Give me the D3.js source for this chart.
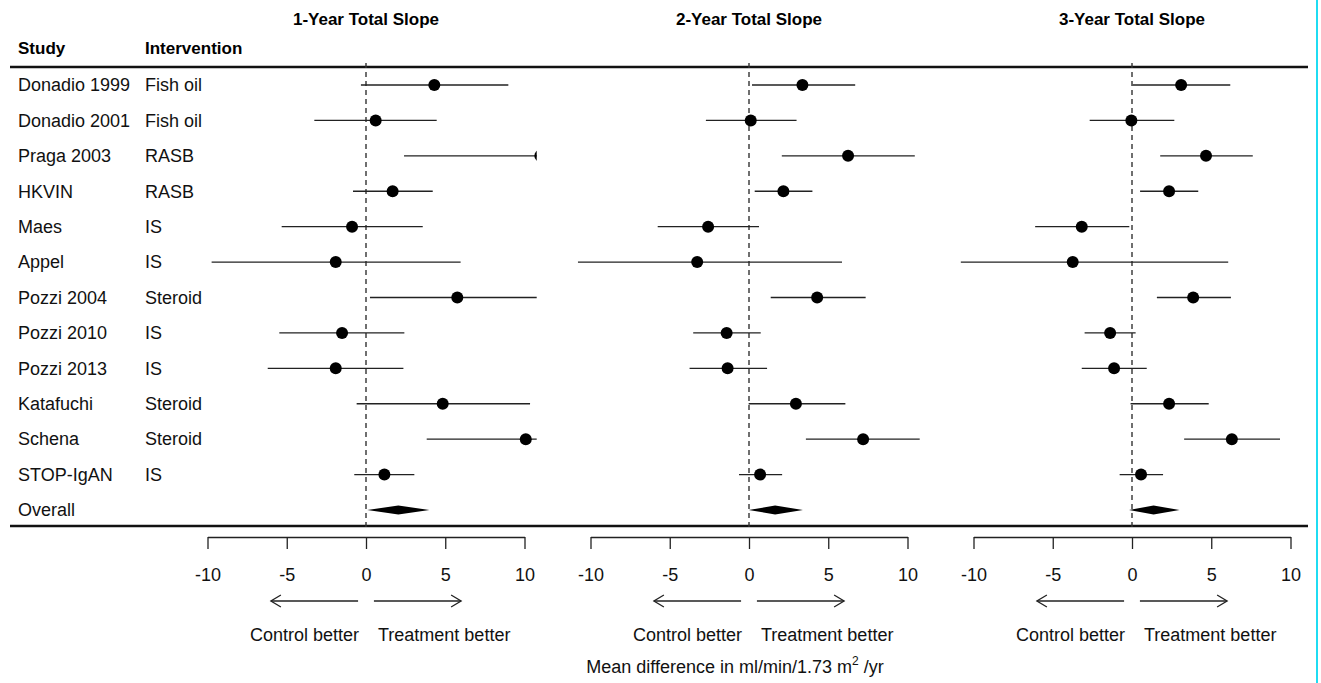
<!DOCTYPE html>
<html><head><meta charset="utf-8">
<script src="https://cdn.jsdelivr.net/npm/d3@7"></script>
<style>
body{margin:0;background:#fff;}
svg{display:block;font-family:"Liberation Sans",Arial,sans-serif;}
</style></head>
<body>
<svg id="chart" width="1321" height="683"></svg>
<script>
const studies = ["Donadio 1999","Donadio 2001","Praga 2003","HKVIN","Maes","Appel","Pozzi 2004","Pozzi 2010","Pozzi 2013","Katafuchi","Schena","STOP-IgAN"];
const interventions = ["Fish oil","Fish oil","RASB","RASB","IS","IS","Steroid","IS","IS","Steroid","Steroid","IS"];
const panelTitles = ["1-Year Total Slope","2-Year Total Slope","3-Year Total Slope"];

const mean1 = [4.31,0.61,11.0,1.68,-0.88,-1.91,5.76,-1.51,-1.91,4.84,10.08,1.16];
const lo1   = [-0.32,-3.26,2.4,-0.82,-5.32,-9.74,0.25,-5.47,-6.2,-0.59,3.83,-0.74];
const hi1   = [8.98,4.46,19.6,4.21,3.58,5.97,11.3,2.42,2.36,10.35,16.3,3.05];
const overall1 = [0.08,2.04,4.0];

const mean2 = [3.37,0.11,6.25,2.17,-2.58,-3.27,4.3,-1.41,-1.35,2.96,7.2,0.7];
const lo2   = [0.19,-2.72,2.07,0.36,-5.76,-10.8,1.37,-3.52,-3.75,-0.02,3.59,-0.63];
const hi2   = [6.7,3.0,10.46,4.0,0.63,5.87,7.36,0.74,1.14,6.08,10.8,2.09];
const overall2 = [-0.02,1.65,3.4];

const mean3 = [3.1,-0.04,4.67,2.34,-3.17,-3.74,3.86,-1.38,-1.13,2.34,6.3,0.57];
const lo3   = [0.04,-2.67,1.78,0.51,-6.11,-10.85,1.57,-2.99,-3.17,-0.09,3.29,-0.78];
const hi3   = [6.2,2.67,7.62,4.18,-0.17,6.07,6.24,0.23,0.93,4.84,9.34,1.96];
const overall3 = [-0.19,1.36,3.0];

const tickValues = [-10,-5,0,5,10];
const axisTitle = "Mean difference in ml/min/1.73 m";

const panels = [
  {title: panelTitles[0], mean: mean1, lo: lo1, hi: hi1, overall: overall1, center: 366},
  {title: panelTitles[1], mean: mean2, lo: lo2, hi: hi2, overall: overall2, center: 749},
  {title: panelTitles[2], mean: mean3, lo: lo3, hi: hi3, overall: overall3, center: 1132}
];

const svg = d3.select("#chart");
const rowNames = studies.concat(["Overall"]);
const y = d3.scalePoint().domain(rowNames).range([85, 510]);

const topLineY = 67, botLineY = 526, axisY = 537;
const fs = 18;

// cyan edge line
svg.append("line").attr("x1",1317).attr("x2",1317).attr("y1",0).attr("y2",683)
  .attr("stroke","#1fdcf2").attr("stroke-width",2);

// horizontal rules
[topLineY, botLineY].forEach(yy => {
  svg.append("line").attr("x1",10).attr("x2",1308).attr("y1",yy).attr("y2",yy)
    .attr("stroke","#111").attr("stroke-width",2.6);
});

// headers
svg.append("text").attr("x",18).attr("y",48).attr("dy","0.35em")
  .attr("font-weight","bold").attr("font-size",fs-1).text("Study");
svg.append("text").attr("x",145).attr("y",48).attr("dy","0.35em")
  .attr("font-weight","bold").attr("font-size",fs-1).text("Intervention");

// row labels
svg.append("g").selectAll("text").data(rowNames).join("text")
  .attr("x",18).attr("y",d=>y(d)).attr("dy","0.35em").attr("font-size",fs).attr("fill","#111")
  .text(d=>d);
svg.append("g").selectAll("text").data(interventions).join("text")
  .attr("x",145).attr("y",(d,i)=>y(studies[i])).attr("dy","0.35em").attr("font-size",fs).attr("fill","#111")
  .text(d=>d);

const defs = svg.append("defs");

panels.forEach((p, pi) => {
  const x = d3.scaleLinear().domain([-10,10]).range([p.center-158.5, p.center+158.5]);
  const g = svg.append("g");

  // title
  g.append("text").attr("x",x(0)).attr("y",19).attr("dy","0.35em").attr("text-anchor","middle")
    .attr("font-weight","bold").attr("font-size",fs-1).text(p.title);

  // clip
  const cid = "clip"+pi;
  defs.append("clipPath").attr("id",cid).append("rect")
    .attr("x",x(-10.8)).attr("width",x(10.77)-x(-10.8)).attr("y",topLineY).attr("height",botLineY-topLineY);

  // dashed zero line
  g.append("line").attr("x1",x(0)).attr("x2",x(0)).attr("y1",topLineY-4).attr("y2",botLineY+4)
    .attr("stroke","#333").attr("stroke-width",1.4).attr("stroke-dasharray","5,4");

  const m = g.append("g").attr("clip-path",`url(#${cid})`);
  m.selectAll("line.ci").data(studies).join("line").attr("class","ci")
    .attr("x1",(d,i)=>x(p.lo[i])).attr("x2",(d,i)=>x(p.hi[i]))
    .attr("y1",d=>y(d)).attr("y2",d=>y(d))
    .attr("stroke","#222").attr("stroke-width",1.4);
  m.selectAll("circle").data(studies).join("circle")
    .attr("cx",(d,i)=>x(p.mean[i])).attr("cy",d=>y(d)).attr("r",6).attr("fill","#000");

  // overall diamond
  const oy = y("Overall");
  const [ol, om, oh] = p.overall;
  m.append("path")
    .attr("d",`M${x(ol)},${oy} L${x(om)},${oy-4.5} L${x(oh)},${oy} L${x(om)},${oy+4.5} Z`)
    .attr("fill","#000");

  // axis
  const axis = d3.axisBottom(x).tickValues(tickValues).tickSize(12).tickSizeOuter(0)
    .tickFormat(d=>d3.format("d")(d).replace("−","-"));
  const ag = g.append("g").attr("transform",`translate(0,${axisY})`).call(axis);
  ag.select(".domain").attr("stroke","#222").attr("stroke-width",1.3);
  ag.selectAll(".tick line").attr("stroke","#222").attr("stroke-width",1.3);
  ag.selectAll(".tick text").attr("font-size",fs).attr("fill","#111")
    .attr("font-family","Liberation Sans, Arial, sans-serif").attr("dy",0).attr("y",44);

  // arrows
  const ay = 601;
  const arrow = (x1, x2) => {
    const dir = Math.sign(x2-x1);
    g.append("line").attr("x1",x1).attr("x2",x2).attr("y1",ay).attr("y2",ay)
      .attr("stroke","#222").attr("stroke-width",1.3);
    g.append("path").attr("d",`M${x2-dir*10},${ay-6} L${x2},${ay} L${x2-dir*10},${ay+6}`)
      .attr("fill","none").attr("stroke","#222").attr("stroke-width",1.3);
  };
  arrow(x(-0.5), x(-6));
  arrow(x(0.5), x(6));

  g.append("text").attr("x",x(0)-7).attr("y",635).attr("dy","0.35em").attr("text-anchor","end")
    .attr("font-size",fs).attr("fill","#111").text("Control better");
  g.append("text").attr("x",x(0)+12).attr("y",635).attr("dy","0.35em").attr("text-anchor","start")
    .attr("font-size",fs).attr("fill","#111").text("Treatment better");
});

// x-axis title
const t = svg.append("text").attr("x",735).attr("y",667).attr("dy","0.35em").attr("text-anchor","middle")
  .attr("font-size",fs).attr("fill","#111");
t.append("tspan").text(axisTitle);
t.append("tspan").attr("font-size",12).attr("dy",-8).text("2");
t.append("tspan").attr("dy",8).text(" /yr");
</script>
</body></html>
